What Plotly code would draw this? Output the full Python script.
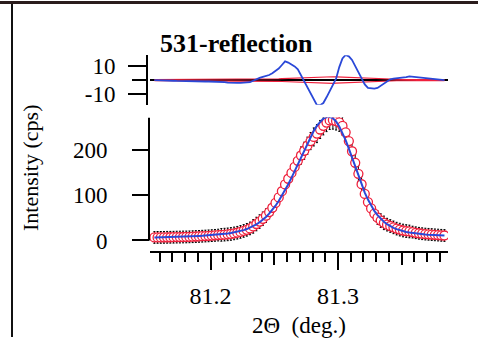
import plotly.graph_objects as go

# ---------------- data ----------------
two_theta = [81.156, 81.1585, 81.161, 81.1635, 81.166, 81.1685, 81.171, 81.1735, 81.176, 81.1785,
             81.181, 81.1835, 81.186, 81.1885, 81.191, 81.1935, 81.196, 81.1985, 81.201, 81.2035,
             81.206, 81.2085, 81.211, 81.2135, 81.216, 81.2185, 81.221, 81.2235, 81.226, 81.2285,
             81.231, 81.2335, 81.236, 81.2385, 81.241, 81.2435, 81.246, 81.2485, 81.251, 81.2535,
             81.256, 81.2585, 81.261, 81.2635, 81.266, 81.2685, 81.271, 81.2735, 81.276, 81.2785,
             81.281, 81.2835, 81.286, 81.2885, 81.291, 81.2935, 81.296, 81.2985, 81.301, 81.3035,
             81.306, 81.3085, 81.311, 81.3135, 81.316, 81.3185, 81.321, 81.3235, 81.326, 81.3285,
             81.331, 81.3335, 81.336, 81.3385, 81.341, 81.3435, 81.346, 81.3485, 81.351, 81.3535,
             81.356, 81.3585, 81.361, 81.3635, 81.366, 81.3685, 81.371, 81.3735, 81.376, 81.3785,
             81.381, 81.3835]

observed_cps = [6.6, 6.8, 6.8, 6.9, 7.0, 7.1, 7.2, 7.4, 7.5, 7.7,
                7.8, 8.0, 8.3, 8.7, 9.0, 9.4, 9.8, 10.2, 10.7, 11.3,
                11.9, 12.4, 12.9, 13.5, 14.4, 15.6, 17.1, 18.9, 21.1, 23.6,
                26.7, 31.1, 36.4, 41.8, 48.0, 54.9, 62.9, 72.4, 83.2, 95.2,
                109.0, 124.0, 136.6, 149.5, 162.9, 176.3, 188.1, 198.6, 209.8, 220.1,
                229.2, 236.6, 245.7, 253.7, 261.0, 265.8, 266.5, 264.5, 261.5, 253.5,
                239.5, 220.0, 197.5, 172.0, 147.5, 124.5, 103.0, 85.0, 71.0, 59.5,
                50.5, 44.0, 39.0, 35.0, 32.0, 29.0, 26.2, 24.0, 22.0, 20.8,
                19.9, 18.5, 17.0, 15.9, 14.9, 14.1, 13.6, 13.0, 12.4, 11.9,
                11.4, 11.0]

observed_err = [13] * 21 + [14] * 10 + [15] * 6 + [16, 16, 17, 17, 17, 17] + \
               [18, 18, 18, 19, 19, 19, 19, 20, 20, 20, 20] + [20] * 9 + \
               [19, 18, 18, 17] + [16, 16, 15, 15, 15, 15] + [14] * 8 + [13] * 11

fit_cps = [6.6, 6.75, 6.93, 7.11, 7.32, 7.52, 7.73, 7.97, 8.2, 8.45,
           8.73, 9.01, 9.33, 9.65, 10.0, 10.38, 10.79, 11.24, 11.74, 12.28,
           12.89, 13.59, 14.38, 15.3, 16.36, 17.59, 19.06, 20.8, 22.86, 25.29,
           28.16, 31.61, 35.61, 40.31, 45.79, 52.09, 59.4, 67.62, 76.86, 87.16,
           98.54, 111.0, 124.36, 138.52, 153.4, 168.78, 184.56, 200.11, 215.25, 229.59,
           242.68, 254.13, 263.22, 269.7, 273.0, 273.8, 270.5, 263.5, 252.5, 238.5,
           222.0, 203.5, 183.5, 162.5, 142.0, 123.0, 106.0, 90.5, 77.0, 65.5,
           56.0, 48.0, 41.5, 36.0, 31.5, 28.0, 25.0, 22.5, 20.5, 18.8,
           17.4, 16.2, 15.2, 14.4, 13.7, 13.1, 12.6, 12.2, 11.8, 11.5,
           11.2, 11.0]

residual = [0, 0, -0.1, -0.2, -0.3, -0.4, -0.5, -0.6, -0.7, -0.8,
            -0.9, -1.0, -1.0, -1.0, -1.0, -1.0, -1.0, -1.0, -1.0, -1.0,
            -1.0, -1.2, -1.5, -1.8, -2.0, -2.0, -2.0, -1.9, -1.8, -1.7,
            -1.5, -0.5, 0.8, 1.5, 2.2, 2.8, 3.5, 4.8, 6.3, 8.0,
            10.5, 13.0, 12.2, 11.0, 9.5, 7.5, 3.5, -1.5, -5.5, -9.5,
            -13.5, -17.5, -17.5, -16.0, -12.0, -8.0, -4.0, 1.0, 9.0, 15.0,
            17.5, 16.5, 14.0, 9.5, 5.5, 1.5, -3.0, -5.5, -6.0, -6.0,
            -5.5, -4.0, -2.5, -1.0, 0.5, 1.0, 1.2, 1.5, 1.5, 2.0,
            2.5, 2.3, 1.8, 1.5, 1.2, 1.0, 1.0, 0.8, 0.6, 0.4,
            0.2, 0.0]

residual_band = [0.4] * 20 + [0.4, 0.4, 0.4, 0.4, 0.5, 0.5, 0.5, 0.5, 0.5, 0.5] + \
                [0.5, 0.5, 0.6, 0.6, 0.6, 0.7] + [0.7, 0.8, 0.9, 0.9, 1.0, 1.1] + \
                [1.2, 1.3, 1.4, 1.5, 1.6, 1.8] + [1.9, 2.0, 2.1, 2.2, 2.2, 2.3] + \
                [2.3, 2.3, 2.3, 2.2, 2.1, 2.0] + [1.9, 1.8, 1.6, 1.5, 1.3, 1.2] + \
                [1.1, 1.0, 0.9, 0.8, 0.7, 0.6] + [0.6, 0.6, 0.5, 0.5, 0.5, 0.5, 0.4, 0.4, 0.4, 0.4] + \
                [0.4] * 10

x_major_ticks = [81.2, 81.3]
x_mid_ticks = [81.25, 81.35]
y_ticks = [0, 100, 200]
res_ticks = [-10, 10]

# ---------------- figure ----------------
W, H = 478, 340
FONT = "Liberation Serif, Times New Roman, Times, serif"
RED = "#f0203c"
BLUE = "#2a48d8"

def fx(p):
    return p / W

def fy(p):
    return 1 - p / H

x_range = [81.15255, 81.38628]

fig = go.Figure()

# residual panel
fig.add_trace(go.Scatter(x=two_theta, y=[b for b in residual_band], xaxis="x2", yaxis="y2",
                         mode="lines", line=dict(color=RED, width=1.2), hoverinfo="skip"))
fig.add_trace(go.Scatter(x=two_theta, y=[-b for b in residual_band], xaxis="x2", yaxis="y2",
                         mode="lines", line=dict(color=RED, width=1.2), hoverinfo="skip"))
fig.add_trace(go.Scatter(x=two_theta, y=residual, xaxis="x2", yaxis="y2",
                         mode="lines", line=dict(color=BLUE, width=1.8)))

# main panel
fig.add_trace(go.Scatter(x=two_theta, y=observed_cps, mode="markers",
                         marker=dict(symbol="circle", size=9, color="white",
                                     line=dict(color=RED, width=1.3)),
                         error_y=dict(type="data", array=observed_err, color="black",
                                      thickness=1, width=1)))
fig.add_trace(go.Scatter(x=two_theta, y=fit_cps, mode="lines",
                         line=dict(color=BLUE, width=2)))
# helper (empty) trace for the medium-tick axis
fig.add_trace(go.Scatter(x=[], y=[], xaxis="x3", yaxis="y", showlegend=False))

xtickfont = dict(family=FONT, size=24, color="black")
ytickfont = dict(family=FONT, size=23, color="black")

fig.update_layout(
    width=W, height=H,
    margin=dict(l=0, r=0, t=0, b=0),
    paper_bgcolor="white", plot_bgcolor="rgba(0,0,0,0)",
    showlegend=False,
    font=dict(family=FONT, color="black"),
    xaxis=dict(domain=[fx(150), fx(448)], range=x_range, anchor="y",
               showline=True, linecolor="black", linewidth=2,
               tickmode="array", tickvals=x_major_ticks,
               ticktext=[f"{v:.1f}" for v in x_major_ticks],
               ticks="outside", ticklen=17, tickwidth=2, tickcolor="black",
               ticklabelstandoff=5,
               minor=dict(tickmode="linear", tick0=81.2, dtick=0.01, ticks="outside",
                          ticklen=9, tickwidth=2, tickcolor="black"),
               showgrid=False, zeroline=False, tickfont=xtickfont),
    xaxis3=dict(domain=[fx(150), fx(448)], range=x_range, anchor="y", overlaying="x",
                tickmode="array", tickvals=x_mid_ticks, ticks="outside", ticklen=13,
                tickwidth=2, tickcolor="black", showticklabels=False,
                showline=False, showgrid=False, zeroline=False),
    yaxis=dict(domain=[fy(253), fy(118)], range=[-23.4, 272], anchor="x",
               tickmode="array", tickvals=y_ticks, ticks="outside", ticklen=17,
               tickwidth=2, tickcolor="black", ticklabelstandoff=20,
               showline=False, showgrid=False, zeroline=False, tickfont=ytickfont),
    xaxis2=dict(domain=[fx(150), fx(448)], range=x_range, anchor="y2", visible=False),
    yaxis2=dict(domain=[fy(105), fy(55)], range=[-17.2, 17.2], anchor="free",
                position=fx(147),
                tickmode="array", tickvals=res_ticks, ticktext=["-10", "10"],
                ticks="outside", ticklen=18, tickwidth=2, tickcolor="black",
                ticklabelstandoff=8,
                minor=dict(tickmode="array", tickvals=[0], ticks="outside",
                           ticklen=14, tickwidth=2, tickcolor="black"),
                showline=True, linecolor="black", linewidth=2,
                showgrid=False, zeroline=True, zerolinecolor="black", zerolinewidth=2,
                tickfont=ytickfont),
    annotations=[
        dict(text="<b>531-reflection</b>", x=fx(158), y=fy(43), xref="paper", yref="paper",
             xanchor="left", yanchor="middle", showarrow=False,
             font=dict(family=FONT, size=26, color="black")),
        dict(text="Intensity (cps)", x=fx(30), y=fy(169), xref="paper", yref="paper",
             xanchor="center", yanchor="middle", textangle=-90, showarrow=False,
             font=dict(family=FONT, size=22, color="black")),
        dict(text="2\u0398  (deg.)", x=fx(299), y=fy(328), xref="paper", yref="paper",
             xanchor="center", yanchor="middle", showarrow=False,
             font=dict(family=FONT, size=23, color="black")),
    ],
    shapes=[
        # lower y-axis line, drawn only from 0 upward
        dict(type="line", xref="paper", yref="y", x0=fx(149), x1=fx(149),
             y0=0, y1=272, line=dict(color="black", width=2)),
        # scanned frame: left and top border
        dict(type="line", xref="paper", yref="paper", x0=fx(12), x1=fx(12),
             y0=0, y1=1, line=dict(color="#111111", width=2)),
        dict(type="rect", xref="paper", yref="paper", x0=0, x1=1,
             y0=fy(3), y1=1, fillcolor="#2a1c1c", line=dict(width=0)),
    ],
)

fig.write_html("out.html",
               config={"displayModeBar": False},
               post_script="document.body.style.margin='0';"
                           "document.body.style.overflow='hidden';")
